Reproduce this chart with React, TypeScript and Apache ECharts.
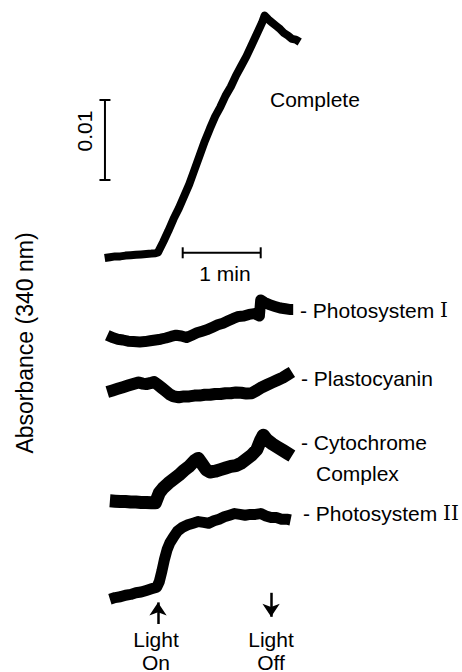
import React, { useEffect, useRef } from "react";
import * as echarts from "echarts";

// time in s (0 = light on), absorbance change in units of 0.001 A
const traceNames = ["Complete", "Photosystem I", "Plastocyanin", "Cytochrome Complex", "Photosystem II"];

const completeTrace: [number, number][] = [
  [-41, 0.0], [-37, 0.1], [-33, 0.2], [-29, 0.2], [-25, 0.3], [-21, 0.35], [-17, 0.4], [-13, 0.45],
  [-9, 0.5], [-5, 0.55], [-2, 0.6], [0, 0.7], [4, 2.0],
  [8, 3.4], [12, 4.9], [16, 6.2], [20, 7.7], [24, 9.2], [28, 11.0], [32, 12.8], [36, 14.6],
  [40, 16.2], [44, 17.7], [48, 18.9], [52, 20.3], [56, 21.4], [60, 22.8], [64, 24.0], [68, 25.2],
  [72, 26.6], [76, 28.0], [80, 29.4], [82, 30.3], [85, 29.8], [88, 29.4], [91, 29.0], [94, 28.6],
  [97, 28.1], [100, 27.8], [103, 27.4], [106, 27.3], [109, 27.0],
];

const photosystemOneTrace: [number, number][] = [
  [-39, 0], [-35, -0.3], [-31, -0.5], [-27, -0.6], [-23, -0.75], [-19, -0.8], [-14, -0.85], [-10, -0.8],
  [-6, -0.7], [-2, -0.6], [2, -0.5], [6, -0.35], [10, -0.15], [14, 0.0], [18, -0.1], [22, -0.3],
  [26, 0.0], [30, 0.3], [34, 0.5], [38, 0.7], [42, 1.0], [46, 1.3], [50, 1.5], [54, 1.8],
  [58, 2.1], [62, 2.35], [66, 2.4], [70, 2.6], [74, 2.7], [78, 2.4], [79, 4.4], [82, 4.1],
  [86, 3.8], [90, 3.6], [94, 3.4], [98, 3.3], [102, 3.2], [104, 3.2],
];

const plastocyaninTrace: [number, number][] = [
  [-39, 0], [-35, 0.2], [-31, 0.4], [-27, 0.6], [-23, 0.8], [-19, 1.0], [-15, 1.2], [-12, 1.05],
  [-9, 1.0], [-6, 1.1], [-3, 1.25], [0, 0.9], [3, 0.5], [6, 0.1], [9, -0.3], [12, -0.55],
  [16, -0.65], [20, -0.55], [24, -0.55], [28, -0.45], [32, -0.45], [36, -0.35], [40, -0.35], [44, -0.25],
  [48, -0.25], [52, -0.15], [56, -0.15], [60, -0.05], [64, -0.1], [68, -0.2], [72, -0.15], [76, 0.2],
  [80, 0.6], [84, 0.9], [88, 1.2], [92, 1.5], [96, 1.8], [100, 2.2], [103, 2.5],
];

const cytochromeTrace: [number, number][] = [
  [-37, 0], [-33, -0.05], [-29, -0.1], [-25, -0.1], [-21, -0.15], [-17, -0.15], [-13, -0.2], [-9, -0.2],
  [-5, -0.25], [-2, -0.25], [1, 1.0], [4, 1.6], [8, 2.2], [12, 2.7], [16, 3.2], [20, 3.8],
  [24, 4.3], [28, 5.0], [31, 5.3], [34, 4.6], [37, 3.9], [40, 3.6], [44, 3.7], [48, 3.9],
  [52, 4.1], [56, 4.3], [60, 4.4], [64, 4.7], [68, 5.2], [72, 5.7], [76, 6.4], [79, 7.6],
  [81, 8.2], [84, 7.6], [88, 7.1], [92, 6.7], [96, 6.3], [100, 5.9], [103, 5.6],
];

const photosystemTwoTrace: [number, number][] = [
  [-37, 0], [-33, 0.2], [-29, 0.3], [-25, 0.5], [-21, 0.6], [-17, 0.8], [-13, 0.9], [-9, 1.1],
  [-5, 1.3], [-1, 1.5], [1, 2.2], [3, 3.5], [5, 5.0], [7, 6.2], [9, 7.0], [12, 7.8],
  [15, 8.5], [19, 9.0], [23, 9.3], [27, 9.5], [31, 9.7], [35, 9.6], [39, 9.5], [43, 9.8],
  [47, 10.0], [51, 10.3], [55, 10.5], [59, 10.7], [63, 10.6], [67, 10.5], [71, 10.6], [75, 10.6],
  [79, 10.7], [83, 10.4], [87, 10.2], [91, 10.2], [95, 10.0], [99, 10.0], [102, 9.9],
];

const traces = [completeTrace, photosystemOneTrace, plastocyaninTrace, cytochromeTrace, photosystemTwoTrace];
// vertical stacking offsets of the traces (0.001 A units)
const traceOffsets = [51.75, 42.1, 35, 21.4, 9.1];
const traceWidths = [8, 11, 12, 13, 11];

const lightOnTime = 0;
const lightOffTime = 87;
const scaleBarAbsorbance = 10; // 0.01 A
const scaleBarTime = 60; // 1 min

const FONT = '"Liberation Sans", Arial, sans-serif';
const SERIF = '"DejaVu Serif", "Liberation Serif", serif';

export default function App() {
  const ref = useRef<HTMLDivElement>(null);
  useEffect(() => {
    if (!ref.current) return;
    const chart = echarts.init(ref.current, undefined, { renderer: "svg" });
    const black = "#000";
    const txt = (text: string, x: number, y: number, align = "left", rotation = 0, fontSize = 21) => ({
      type: "text",
      x,
      y,
      rotation,
      silent: true,
      style: { text, fontSize, fontFamily: FONT, fill: black, align, verticalAlign: "middle" },
    });
    const roman = (name: string, numeral: string, x: number, y: number) => ({
      type: "text",
      x,
      y,
      silent: true,
      style: {
        text: `{a|- ${name} }{b|${numeral}}`,
        fill: black,
        align: "left",
        verticalAlign: "middle",
        rich: {
          a: { fontSize: 21, fontFamily: FONT, fill: black },
          b: { fontSize: 20, fontFamily: SERIF, fill: black },
        },
      },
    });

    const traceSeries = traces.map((tr, i) => ({
      name: traceNames[i],
      type: "line",
      data: tr.map(([t, d]) => [t, d + traceOffsets[i]]),
      symbol: "none",
      silent: true,
      lineStyle: { color: black, width: traceWidths[i], join: "round", cap: "butt" },
    }));

    const vBarX = -40.8;
    const vBarBottom = 61.5;
    const hBarY = 52.4;
    const hBarStart = 19;

    chart.setOption({
      animation: false,
      backgroundColor: "#fff",
      grid: { left: 93, top: 0, width: 260, height: 672 },
      xAxis: { type: "value", min: -50, max: 150, show: false },
      yAxis: { type: "value", min: 0, max: 84, show: false },
      series: [
        ...traceSeries,
        {
          type: "line",
          silent: true,
          data: [[vBarX, vBarBottom], [vBarX, vBarBottom + scaleBarAbsorbance]],
          symbol: "rect",
          symbolSize: [11, 2],
          showSymbol: true,
          itemStyle: { color: black },
          lineStyle: { color: black, width: 2 },
        },
        {
          type: "line",
          silent: true,
          data: [[hBarStart, hBarY], [hBarStart + scaleBarTime, hBarY]],
          symbol: "rect",
          symbolSize: [2, 11],
          showSymbol: true,
          itemStyle: { color: black },
          lineStyle: { color: black, width: 2 },
        },
        {
          type: "line",
          silent: true,
          data: [],
          markLine: {
            silent: true,
            symbol: ["none", "arrow"],
            symbolSize: 13,
            label: { show: false },
            lineStyle: { color: black, width: 2.5, type: "solid" },
            data: [
              [{ coord: [lightOnTime, 6.0] }, { coord: [lightOnTime, 8.7] }],
              [{ coord: [lightOffTime, 9.9] }, { coord: [lightOffTime, 6.9] }],
            ],
          },
        },
      ],
      graphic: [
        txt("Complete", 270, 99),
        txt("0.01", 84, 131, "center", Math.PI / 2),
        txt("1 min", 225, 273, "center"),
        txt("Absorbance (340 nm)", 25, 343, "center", Math.PI / 2, 23),
        roman("Photosystem", "I", 300, 310),
        txt("- Plastocyanin", 301, 378),
        txt("- Cytochrome", 301, 442),
        txt("Complex", 316, 473),
        roman("Photosystem", "II", 303, 513),
        txt("Light", 156, 639, "center"),
        txt("On", 156, 662, "center"),
        txt("Light", 271, 639, "center"),
        txt("Off", 271, 662, "center"),
      ],
    });
    return () => chart.dispose();
  }, []);
  return (
    <div
      ref={ref}
      style={{ position: "fixed", left: 0, top: 0, width: 462, height: 672, background: "#fff" }}
    />
  );
}
